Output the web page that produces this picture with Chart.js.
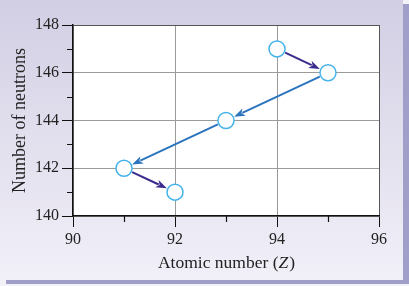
<!DOCTYPE html>
<html>
<head>
<meta charset="utf-8">
<script src="https://cdn.jsdelivr.net/npm/chart.js@4.4.1/dist/chart.umd.min.js"></script>
<style>
  html, body { margin: 0; padding: 0; }
  body { width: 409px; height: 286px; background: #f3f2f9; position: relative; overflow: hidden; }
  .panel {
    position: absolute; left: 0; top: 0; width: 403px; height: 280px;
    background: linear-gradient(to bottom, #d2cee4 0%, #e4e1ef 55%, #f1eff8 100%);
    box-shadow: 6px 4px 0 #a09fca;
  }
  #wrap { position: absolute; left: 0; top: 0; width: 409px; height: 286px; }
</style>
</head>
<body>
<div class="panel"></div>
<div id="wrap"><canvas id="decayChart" width="409" height="286"></canvas></div>
<script>
// decay chain: atomic number vs neutron count
var atomicNumber = [94, 95, 93, 91, 92];
var neutrons = [147, 146, 144, 142, 141];
var decayType = ['beta', 'alpha', 'alpha', 'beta'];   // step i goes from point i to i+1

var xTicks = [90, 92, 94, 96];
var yTicks = [140, 142, 144, 146, 148];
var xMinor = [91, 93, 95];
var yMinor = [141, 143, 145, 147];

var arrowColor = { beta: '#3a2c8c', alpha: '#2b74be' };
var serif = "'Liberation Serif', 'DejaVu Serif', serif";

var points = atomicNumber.map(function (z, i) { return { x: z, y: neutrons[i] }; });

var arrowPlugin = {
    id: 'arrows',
    beforeDraw: function (chart) {
        // white plot area
        var a = chart.chartArea, ctx = chart.ctx;
        ctx.save();
        ctx.fillStyle = '#ffffff';
        ctx.fillRect(a.left, a.top, a.right - a.left, a.bottom - a.top);
        ctx.restore();
    },
    beforeDatasetsDraw: function (chart) {
        var ctx = chart.ctx, xs = chart.scales.x, ys = chart.scales.y;
        var r = 9;
        ctx.save();
        for (var i = 0; i < decayType.length; i++) {
            var x1 = xs.getPixelForValue(atomicNumber[i]), y1 = ys.getPixelForValue(neutrons[i]);
            var x2 = xs.getPixelForValue(atomicNumber[i + 1]), y2 = ys.getPixelForValue(neutrons[i + 1]);
            var a = Math.atan2(y2 - y1, x2 - x1);
            var sx = x1 + Math.cos(a) * r, sy = y1 + Math.sin(a) * r;
            var ex = x2 - Math.cos(a) * r, ey = y2 - Math.sin(a) * r;
            var head = 11, hw = 4;
            var bx = ex - Math.cos(a) * head, by = ey - Math.sin(a) * head;
            ctx.strokeStyle = ctx.fillStyle = arrowColor[decayType[i]];
            ctx.lineWidth = 2;
            ctx.beginPath();
            ctx.moveTo(sx, sy);
            ctx.lineTo(bx + Math.cos(a) * 2, by + Math.sin(a) * 2);
            ctx.stroke();
            ctx.beginPath();
            ctx.moveTo(ex, ey);
            ctx.lineTo(bx - Math.sin(a) * hw, by + Math.cos(a) * hw);
            ctx.lineTo(bx + Math.cos(a) * 3, by + Math.sin(a) * 3);
            ctx.lineTo(bx + Math.sin(a) * hw, by - Math.cos(a) * hw);
            ctx.closePath();
            ctx.fill();
        }
        ctx.restore();
    },
    afterDraw: function (chart) {
        var ctx = chart.ctx, xs = chart.scales.x, ys = chart.scales.y;
        var area = chart.chartArea;
        ctx.save();
        // short minor ticks outside the axes
        ctx.strokeStyle = '#111';
        ctx.lineWidth = 1.2;
        ctx.beginPath();
        xMinor.forEach(function (v) {
            var px = Math.round(xs.getPixelForValue(v)) + 0.5;
            ctx.moveTo(px, area.bottom);
            ctx.lineTo(px, area.bottom + 6);
        });
        yMinor.forEach(function (v) {
            var py = Math.round(ys.getPixelForValue(v)) + 0.5;
            ctx.moveTo(area.left, py);
            ctx.lineTo(area.left - 6, py);
        });
        ctx.stroke();

        // x title with italic Z
        var parts = [['Atomic number (', ''], ['Z', 'italic '], [')', '']];
        var total = 0;
        parts.forEach(function (p) {
            ctx.font = p[1] + '17.5px ' + serif;
            p.push(ctx.measureText(p[0]).width);
            total += p[2];
        });
        var x = (area.left + area.right) / 2 - total / 2, y = 263;
        ctx.fillStyle = '#222';
        ctx.textBaseline = 'middle';
        ctx.textAlign = 'left';
        parts.forEach(function (p) {
            ctx.font = p[1] + '17.5px ' + serif;
            ctx.fillText(p[0], x, y);
            x += p[2] + (p[0] === 'Z' ? 1 : 0);
        });
        ctx.restore();
    }
};

new Chart(document.getElementById('decayChart'), {
    type: 'scatter',
    data: {
        datasets: [{
            data: points,
            pointRadius: 8,
            pointHoverRadius: 8,
            pointBorderWidth: 1.5,
            pointBorderColor: '#44b2ea',
            pointBackgroundColor: '#ffffff'
        }]
    },
    options: {
        responsive: false,
        animation: false,
        devicePixelRatio: 1,
        layout: { padding: { top: 25, right: 30, left: 0, bottom: 0 } },
        plugins: { legend: { display: false }, tooltip: { enabled: false } },
        scales: {
            x: {
                type: 'linear',
                min: 90, max: 96,
                afterBuildTicks: function (s) { s.ticks = xTicks.map(function (v) { return { value: v }; }); },
                afterFit: function (s) { s.height = 70; },
                grid: {
                    color: function (c) { return c.tick && c.tick.value === 96 ? '#555' : '#9a9a9a'; },
                    lineWidth: 1,
                    tickColor: '#111',
                    tickLength: 11
                },
                border: { color: '#111', width: 1.5 },
                ticks: { color: '#222', font: { family: serif, size: 16 }, padding: 3 },
                title: { display: false }
            },
            y: {
                type: 'linear',
                min: 140, max: 148,
                afterBuildTicks: function (s) { s.ticks = yTicks.map(function (v) { return { value: v }; }); },
                afterFit: function (s) { s.width = 73; },
                grid: {
                    color: function (c) { return c.tick && c.tick.value === 148 ? '#555' : '#9a9a9a'; },
                    lineWidth: 1,
                    tickColor: '#111',
                    tickLength: 11
                },
                border: { color: '#111', width: 1.5 },
                ticks: { color: '#222', font: { family: serif, size: 16 }, padding: 3 },
                title: {
                    display: true,
                    text: 'Number of neutrons',
                    color: '#222',
                    font: { family: serif, size: 18 },
                    padding: { top: 9, bottom: 0 }
                }
            }
        }
    },
    plugins: [arrowPlugin]
});
</script>
</body>
</html>
